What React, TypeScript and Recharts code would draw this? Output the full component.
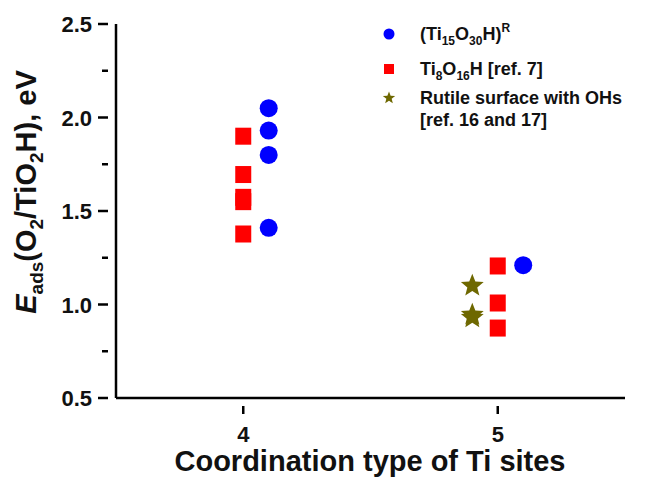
import React from "react"
import {
  ResponsiveContainer,
  Scatter,
  ScatterChart,
  XAxis,
  YAxis,
} from "recharts"

const FONT = '"Liberation Sans", Arial, Helvetica, sans-serif'

const xTicks = [4, 5]
const yTicks = [0.5, 0.75, 1.0, 1.25, 1.5, 1.75, 2.0, 2.25, 2.5]

const clusterX = [4.1, 4.1, 4.1, 4.1, 5.1]
const clusterY = [2.05, 1.93, 1.8, 1.41, 1.21]

const ti8X = [4.0, 4.0, 4.0, 4.0, 4.0, 5.0, 5.0, 5.0]
const ti8Y = [1.9, 1.695, 1.573, 1.55, 1.377, 1.206, 1.008, 0.874]

const rutileX = [4.9, 4.9, 4.9]
const rutileY = [1.1, 0.945, 0.93]

const zip = (xs: number[], ys: number[]) => xs.map((x, i) => ({ x, y: ys[i] }))

const BLUE = "#0000ff"
const RED = "#ff0000"
const OLIVE = "#6e6800"

function starPoints(cx: number, cy: number, R: number, r: number) {
  const pts: string[] = []
  for (let i = 0; i < 10; i++) {
    const rad = i % 2 === 0 ? R : r
    const a = -Math.PI / 2 + (i * Math.PI) / 5
    pts.push(`${cx + rad * Math.cos(a)},${cy + rad * Math.sin(a)}`)
  }
  return pts.join(" ")
}

const CircleShape = (p: any) => <circle cx={p.cx} cy={p.cy} r={9} fill={BLUE} />
const SquareShape = (p: any) => (
  <rect x={p.cx - 8} y={p.cy - 8.5} width={16} height={17} fill={RED} />
)
const StarShape = (p: any) => (
  <polygon points={starPoints(p.cx, p.cy, 12, 5.2)} fill={OLIVE} />
)

const YTick = (props: any) => {
  const { x, y, payload } = props
  const v = payload.value as number
  const major = Math.abs(v * 2 - Math.round(v * 2)) < 1e-6
  return (
    <g>
      <line x1={x} x2={x - (major ? 10 : 6)} y1={y} y2={y} stroke="#000" strokeWidth={2.5} />
      {major && (
        <text
          x={x - 16}
          y={y}
          dy={8}
          textAnchor="end"
          fontFamily={FONT}
          fontWeight="bold"
          fontSize={22}
          fill="#111"
        >
          {v.toFixed(1)}
        </text>
      )}
    </g>
  )
}

const XTick = (props: any) => {
  const { x, y, payload } = props
  return (
    <g>
      <line x1={x} x2={x} y1={y} y2={y + 8} stroke="#000" strokeWidth={2.5} />
      <text
        x={x}
        y={y + 36}
        textAnchor="middle"
        fontFamily={FONT}
        fontWeight="bold"
        fontSize={22}
        fill="#111"
      >
        {payload.value}
      </text>
    </g>
  )
}

const YLabel = () => (
  <text
    transform="translate(36,192) rotate(-90)"
    textAnchor="middle"
    fontFamily={FONT}
    fontWeight="bold"
    fontSize={29}
    fill="#111"
  >
    <tspan fontStyle="italic">E</tspan>
    <tspan fontSize={19} dy={7}>ads</tspan>
    <tspan dy={-7}>(O</tspan>
    <tspan fontSize={19} dy={7}>2</tspan>
    <tspan dy={-7}>/TiO</tspan>
    <tspan fontSize={19} dy={7}>2</tspan>
    <tspan dy={-7}>H), eV</tspan>
  </text>
)

const XLabel = () => (
  <text
    x={370}
    y={471}
    textAnchor="middle"
    fontFamily={FONT}
    fontWeight="bold"
    fontSize={29}
    fill="#111"
  >
    Coordination type of Ti sites
  </text>
)

const subStyle: React.CSSProperties = { fontSize: 12, verticalAlign: "-5px", lineHeight: 0 }
const supStyle: React.CSSProperties = { fontSize: 12, verticalAlign: "8px", lineHeight: 0 }

const LegendBox = () => (
  <div
    style={{
      position: "absolute",
      left: 377,
      top: 17,
      width: 270,
      fontFamily: FONT,
      fontWeight: "bold",
      fontSize: 18,
      color: "#111",
      lineHeight: "22px",
    }}
  >
    <div style={{ display: "flex", alignItems: "center", height: 34 }}>
      <svg width={43} height={20}>
        <circle cx={12} cy={10} r={5.5} fill={BLUE} />
      </svg>
      <span>
        (Ti<span style={subStyle}>15</span>O<span style={subStyle}>30</span>H)
        <span style={supStyle}>R</span>
      </span>
    </div>
    <div style={{ display: "flex", alignItems: "center", height: 36 }}>
      <svg width={43} height={20}>
        <rect x={7} y={5} width={10} height={10} fill={RED} />
      </svg>
      <span>
        Ti<span style={subStyle}>8</span>O<span style={subStyle}>16</span>H [ref. 7]
      </span>
    </div>
    <div style={{ display: "flex", alignItems: "flex-start" }}>
      <svg width={43} height={22} style={{ flex: "none" }}>
        <polygon points={starPoints(12, 11, 6.5, 2.8)} fill={OLIVE} />
      </svg>
      <span>
        Rutile surface with OHs
        <br />
        [ref. 16 and 17]
      </span>
    </div>
  </div>
)

export default function App() {
  return (
    <div style={{ position: "absolute", left: 0, top: 0, width: 652, height: 478, background: "#fff" }}>
      <ResponsiveContainer width="100%" height="100%">
        <ScatterChart margin={{ top: 24, right: 27, bottom: 0, left: 0 }}>
          <XAxis
            type="number"
            dataKey="x"
            domain={[3.5, 5.5]}
            ticks={xTicks}
            tick={<XTick />}
            tickLine={false}
            axisLine={{ stroke: "#000", strokeWidth: 2.5 }}
            height={80}
            interval={0}
            allowDataOverflow
          />
          <YAxis
            type="number"
            dataKey="y"
            domain={[0.5, 2.5]}
            ticks={yTicks}
            tick={<YTick />}
            tickLine={false}
            axisLine={{ stroke: "#000", strokeWidth: 2.5 }}
            width={116}
            interval={0}
            allowDataOverflow
          />
          <Scatter data={zip(ti8X, ti8Y)} shape={SquareShape} isAnimationActive={false} />
          <Scatter data={zip(clusterX, clusterY)} shape={CircleShape} isAnimationActive={false} />
          <Scatter data={zip(rutileX, rutileY)} shape={StarShape} isAnimationActive={false} />
        </ScatterChart>
      </ResponsiveContainer>
      <svg width={652} height={478} style={{ position: "absolute", left: 0, top: 0, pointerEvents: "none" }}>
        <YLabel />
        <XLabel />
      </svg>
      <LegendBox />
    </div>
  )
}
